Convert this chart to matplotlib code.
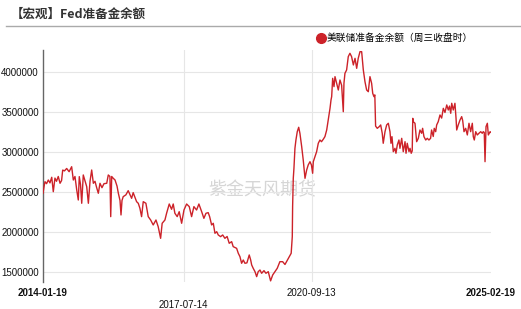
import matplotlib
matplotlib.use("Agg")
import matplotlib.pyplot as plt
import pandas as pd
from matplotlib.lines import Line2D

# ---------------- data ----------------
title = "【宏观】Fed准备金余额"
series_name = "美联储准备金余额（周三收盘时）"
watermark = "紫金天风期货"

dates = [
    "2014-01-19", "2014-01-31", "2014-02-06", "2014-02-20", "2014-03-08", "2014-03-23",
    "2014-04-08", "2014-04-22", "2014-05-07", "2014-05-21", "2014-06-06", "2014-06-22",
    "2014-07-06", "2014-07-16", "2014-08-01", "2014-08-21", "2014-09-12", "2014-10-05",
    "2014-10-20", "2014-11-04", "2014-11-20", "2014-12-04", "2014-12-13", "2014-12-24",
    "2015-01-04", "2015-01-18", "2015-02-02", "2015-02-18", "2015-03-05", "2015-03-20",
    "2015-04-04", "2015-04-19", "2015-05-04", "2015-05-19", "2015-06-03", "2015-06-18",
    "2015-07-06", "2015-07-24", "2015-08-18", "2015-09-01", "2015-09-16", "2015-09-23",
    "2015-10-02", "2015-10-14", "2015-11-01", "2015-11-19", "2015-12-01", "2015-12-16",
    "2015-12-25", "2016-01-03", "2016-01-14", "2016-02-07", "2016-02-28", "2016-03-30",
    "2016-04-13", "2016-05-14", "2016-05-29", "2016-06-13", "2016-06-28", "2016-07-13",
    "2016-08-06", "2016-08-27", "2016-09-18", "2016-10-11", "2016-11-05", "2016-11-25",
    "2016-12-17", "2016-12-31", "2017-01-25", "2017-02-09", "2017-03-05", "2017-03-26",
    "2017-04-10", "2017-04-25", "2017-05-16", "2017-06-03", "2017-06-25", "2017-07-16",
    "2017-08-09", "2017-09-02", "2017-09-23", "2017-10-14", "2017-11-07", "2017-11-28",
    "2017-12-23", "2018-01-12", "2018-01-31", "2018-02-20", "2018-03-05", "2018-03-23",
    "2018-04-07", "2018-04-22", "2018-05-08", "2018-05-22", "2018-06-12", "2018-07-01",
    "2018-07-21", "2018-08-10", "2018-08-29", "2018-09-20", "2018-10-04", "2018-11-04",
    "2018-11-19", "2018-12-04", "2018-12-19", "2019-01-03", "2019-01-18", "2019-02-05",
    "2019-02-26", "2019-03-11", "2019-03-20", "2019-04-03", "2019-04-19", "2019-05-04",
    "2019-05-18", "2019-06-03", "2019-06-18", "2019-07-09", "2019-07-27", "2019-08-17",
    "2019-09-07", "2019-09-26", "2019-10-16", "2019-11-06", "2019-11-30", "2019-12-25",
    "2020-01-15", "2020-02-04", "2020-02-23", "2020-03-11", "2020-03-21", "2020-03-24",
    "2020-03-30", "2020-04-05", "2020-04-14", "2020-04-23", "2020-05-05", "2020-05-18",
    "2020-05-29", "2020-06-14", "2020-06-28", "2020-07-14", "2020-07-29", "2020-08-12",
    "2020-08-28", "2020-09-10", "2020-09-21", "2020-09-27", "2020-10-12", "2020-10-27",
    "2020-11-11", "2020-11-26", "2020-12-10", "2020-12-26", "2021-01-10", "2021-01-26",
    "2021-02-09", "2021-02-25", "2021-03-06", "2021-03-12", "2021-03-21", "2021-04-02",
    "2021-04-11", "2021-04-26", "2021-05-11", "2021-05-26", "2021-06-10", "2021-06-25",
    "2021-07-01", "2021-07-10", "2021-07-25", "2021-08-09", "2021-08-24", "2021-09-08",
    "2021-09-24", "2021-10-09", "2021-10-24", "2021-11-07", "2021-11-23", "2021-12-08",
    "2021-12-23", "2022-01-07", "2022-01-22", "2022-02-06", "2022-02-21", "2022-03-08",
    "2022-03-18", "2022-03-29", "2022-04-06", "2022-04-13", "2022-04-28", "2022-05-16",
    "2022-05-29", "2022-06-12", "2022-06-21", "2022-07-07", "2022-07-22", "2022-08-06",
    "2022-08-21", "2022-08-30", "2022-09-08", "2022-09-20", "2022-10-05", "2022-10-14",
    "2022-10-26", "2022-11-10", "2022-11-19", "2022-12-05", "2022-12-19", "2023-01-04",
    "2023-01-13", "2023-01-24", "2023-02-09", "2023-02-18", "2023-03-01", "2023-03-10",
    "2023-03-15", "2023-03-19", "2023-04-04", "2023-04-19", "2023-05-04", "2023-05-19",
    "2023-06-03", "2023-06-12", "2023-06-24", "2023-07-10", "2023-07-24", "2023-08-08",
    "2023-08-23", "2023-09-01", "2023-09-16", "2023-09-25", "2023-10-08", "2023-10-17",
    "2023-10-31", "2023-11-16", "2023-12-01", "2023-12-16", "2023-12-31", "2024-01-16",
    "2024-01-30", "2024-02-10", "2024-02-21", "2024-03-01", "2024-03-15", "2024-03-30",
    "2024-04-09", "2024-04-15", "2024-04-29", "2024-05-15", "2024-05-30", "2024-06-08",
    "2024-06-20", "2024-07-05", "2024-07-20", "2024-08-04", "2024-08-19", "2024-09-03",
    "2024-09-12", "2024-09-21", "2024-10-04", "2024-10-18", "2024-11-02", "2024-11-18",
    "2024-12-02", "2024-12-11", "2024-12-20", "2024-12-27", "2025-01-05", "2025-01-17",
    "2025-01-26", "2025-02-11", "2025-02-19",
]

reserves = [
    2490000, 2594000, 2635000, 2610000, 2656000, 2620000,
    2690000, 2510000, 2680000, 2640000, 2700000, 2615000,
    2650000, 2780000, 2770000, 2800000, 2760000, 2822000,
    2656000, 2700000, 2530000, 2406000, 2698000, 2600000,
    2365000, 2719000, 2650000, 2573000, 2365000, 2640000,
    2781000, 2615000, 2640000, 2560000, 2490000, 2615000,
    2560000, 2610000, 2615000, 2719000, 2700000, 2198000,
    2700000, 2680000, 2656000, 2580000, 2490000, 2400000,
    2219000, 2400000, 2448000, 2470000, 2523000, 2427000,
    2498000, 2385000, 2365000, 2302000, 2198000, 2385000,
    2365000, 2198000, 2156000, 2094000, 2156000, 2073000,
    1927000, 2115000, 2156000, 2240000, 2356000, 2290000,
    2356000, 2240000, 2198000, 2260000, 2115000, 2281000,
    2356000, 2323000, 2198000, 2323000, 2281000, 2356000,
    2260000, 2177000, 2240000, 2248000, 2198000, 2094000,
    2115000, 1990000, 2010000, 1969000, 1948000, 1969000,
    1927000, 1950000, 1865000, 1885000, 1823000, 1802000,
    1740000, 1698000, 1615000, 1656000, 1615000, 1620000,
    1719000, 1656000, 1594000, 1552000, 1510000, 1448000,
    1510000, 1531000, 1490000, 1523000, 1490000, 1510000,
    1395000, 1469000, 1510000, 1552000, 1635000, 1635000,
    1600000, 1650000, 1700000, 1740000, 1948000, 2323000,
    2677000, 2802000, 3052000, 3156000, 3260000, 3315000,
    3240000, 3073000, 2906000, 2677000, 2781000, 2844000,
    2885000, 2844000, 2740000, 2885000, 2948000, 3010000,
    3115000, 3156000, 3135000, 3165000, 3198000, 3281000,
    3406000, 3552000, 3656000, 3698000, 3927000, 3823000,
    3948000, 3865000, 3781000, 3906000, 3840000, 3510000,
    3865000, 3990000, 4031000, 4198000, 4240000, 4198000,
    4094000, 4177000, 4052000, 4177000, 4260000, 4260000,
    4031000, 3885000, 3781000, 3760000, 3948000, 3865000,
    3740000, 3698000, 3720000, 3330000, 3302000, 3323000,
    3344000, 3240000, 3115000, 3260000, 3344000, 3365000,
    3260000, 3115000, 3198000, 3010000, 3052000, 2990000,
    3094000, 3156000, 3052000, 3177000, 3010000, 3135000,
    2990000, 3115000, 3010000, 3052000, 2990000, 3020000,
    3427000, 3385000, 3365000, 3135000, 3177000, 3281000,
    3240000, 3302000, 3198000, 3156000, 3177000, 3156000,
    3177000, 3281000, 3200000, 3302000, 3260000, 3344000,
    3385000, 3469000, 3430000, 3552000, 3500000, 3594000,
    3531000, 3580000, 3490000, 3615000, 3531000, 3615000,
    3427000, 3281000, 3344000, 3406000, 3448000, 3400000,
    3260000, 3302000, 3219000, 3365000, 3260000, 3365000,
    3198000, 3156000, 3260000, 3219000, 3240000, 3260000,
    3240000, 3260000, 3250000, 2885000, 3323000, 3365000,
    3219000, 3260000, 3250000,
]

tick_dates = ["2014-01-19", "2017-07-14", "2020-09-13", "2025-02-19"]
y_ticks = [1500000, 2000000, 2500000, 3000000, 3500000, 4000000]

# ---------------- figure ----------------
plt.rcParams["font.family"] = ["Liberation Sans", "Noto Sans CJK SC", "DejaVu Sans"]
W, H = 521, 309
fig = plt.figure(figsize=(W / 100, H / 100), dpi=100)
ax = fig.add_axes([43 / W, 1 - 282 / H, 448 / W, 232 / H])

x = pd.to_datetime(dates)
red = "#cc2229"
ax.plot(x, reserves, color=red, lw=1.0, label=series_name, zorder=3)

ax.set_xlim(pd.Timestamp(tick_dates[0]), pd.Timestamp(tick_dates[-1]))
ax.set_ylim(1381000, 4281000)

ax.set_yticks(y_ticks, [str(v) for v in y_ticks])
ax.set_xticks(pd.to_datetime(tick_dates), tick_dates)

ax.tick_params(axis="both", length=0, labelsize=7, labelcolor="#111111")
ax.tick_params(axis="y", pad=3)
ax.tick_params(axis="x", pad=4)

for i, lab in enumerate(ax.get_xticklabels()):
    if i in (0, len(tick_dates) - 1):
        lab.set_fontweight("bold")
ax.xaxis.get_major_ticks()[1].set_pad(13)

ax.grid(True, color="#e6e6e6", lw=0.8, zorder=0)
ax.xaxis.get_major_ticks()[-1].gridline.set_visible(False)
ax.xaxis.get_major_ticks()[0].gridline.set_visible(False)

for s in ["top", "right", "bottom"]:
    ax.spines[s].set_visible(False)
ax.spines["left"].set_color("#666666")
ax.spines["left"].set_linewidth(1.0)

# title and separator
fig.text(11 / W, 1 - 14.5 / H, title, fontsize=9, fontweight="bold",
         family=["Noto Sans CJK SC"], va="center", ha="left", color="#333333")
fig.add_artist(Line2D([6 / W, 1], [1 - 26 / H, 1 - 26 / H], color="#aaaaaa", lw=1.0))

# legend
handle = Line2D([], [], marker="o", color=red, ls="none", markersize=7)
fig.legend([handle], [series_name], loc="center left",
           bbox_to_anchor=(316 / W, 1 - 38 / H), frameon=False,
           handletextpad=0.1, handlelength=1.0, borderpad=0, borderaxespad=0,
           prop={"family": ["Noto Sans CJK SC"], "size": 7})

# watermark
ax.text((262 - 43) / 448, (282 - 190) / 232, watermark, transform=ax.transAxes,
        fontsize=13, color="#d6d6d6", ha="center", va="center",
        family=["Noto Sans CJK SC"], zorder=1)

fig.savefig("out.png", dpi=100)
